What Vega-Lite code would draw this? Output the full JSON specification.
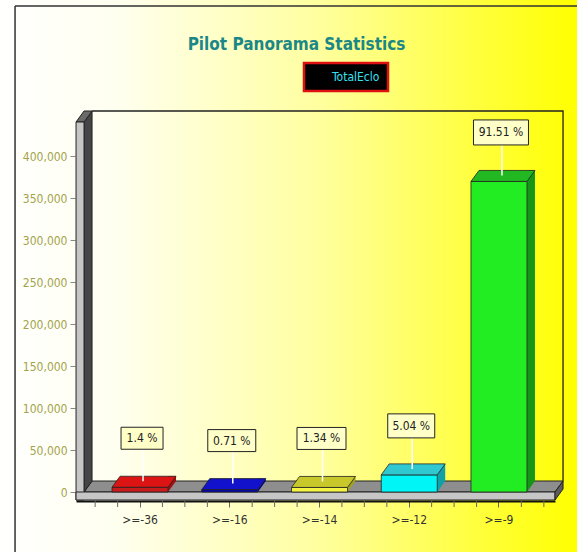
{
  "$schema": "https://vega.github.io/schema/vega-lite/v6.json",
  "width": 577,
  "height": 552,
  "autosize": {"type": "none"},
  "padding": 0,
  "background": "#ffffe6",
  "title": {
    "text": "Pilot Panorama Statistics",
    "color": "#1b8787",
    "font": "Liberation Sans Narrow, DejaVu Sans Condensed, Roboto Condensed, Liberation Sans, sans-serif",
    "fontSize": 17,
    "fontWeight": "bold",
    "anchor": "middle",
    "baseline": "alphabetic",
    "offset": -67,
    "dx": 8
  },
  "config": {
    "font": "Liberation Sans Narrow, DejaVu Sans Condensed, Roboto Condensed, Liberation Sans, sans-serif",
    "view": {
      "stroke": null,
      "fill": {
        "gradient": "linear",
        "x1": 0, "y1": 0, "x2": 1, "y2": 0,
        "stops": [
          {"offset": 0, "color": "#ffffff"},
          {"offset": 0.2, "color": "#fffff0"},
          {"offset": 0.55, "color": "#ffffa0"},
          {"offset": 1, "color": "#ffff00"}
        ]
      }
    }
  },
  "data": {
    "values": [
      {"cat": ">=-36", "count": 5660, "label": "1.4 %", "series": "TotalEclo"},
      {"cat": ">=-16", "count": 2870, "label": "0.71 %", "series": "TotalEclo"},
      {"cat": ">=-14", "count": 5420, "label": "1.34 %", "series": "TotalEclo"},
      {"cat": ">=-12", "count": 20380, "label": "5.04 %", "series": "TotalEclo"},
      {"cat": ">=-9", "count": 369700, "label": "91.51 %", "series": "TotalEclo"}
    ]
  },
  "encoding": {
    "x": {
      "field": "cat",
      "type": "nominal",
      "sort": null,
      "scale": {
        "type": "band",
        "domain": [">=-36", ">=-16", ">=-14", ">=-12", ">=-9"],
        "range": [76, 555],
        "paddingInner": 0.376,
        "paddingOuter": 0.357,
        "align": 0.5625
      },
      "axis": {
        "orient": "bottom",
        "offset": -51,
        "title": null,
        "labelAngle": 0,
        "grid": false,
        "domainColor": "#111111",
        "domainWidth": 2,
        "tickColor": "#666666",
        "tickSize": 6,
        "labelColor": "#333333",
        "labelFontSize": 12,
        "labelPadding": 7
      }
    }
  },
  "layer": [
    {
      "transform": [{"filter": "datum.cat === '>=-36'"}],
      "mark": {"type": "point", "shape": "M-125,-486V80M-125,-486H460", "size": 4, "filled": false, "stroke": "#333333", "strokeWidth": 1.5, "opacity": 1},
      "encoding": {"y": {"datum": 0, "type": "quantitative", "title": null, "scale": {"domain": [0, 400000], "range": [492, 156], "nice": false, "zero": false}}}
    },
    {
      "transform": [{"filter": "datum.cat === '>=-36'"}],
      "mark": {"type": "point", "shape": "M-48,-381H423V-11", "size": 4, "filled": false, "stroke": "#222222", "strokeWidth": 1.3, "opacity": 1},
      "encoding": {"y": {"datum": 0, "type": "quantitative", "title": null, "scale": {"domain": [0, 400000], "range": [492, 156], "nice": false, "zero": false}}}
    },
    {
      "transform": [{"filter": "datum.cat === '>=-36'"}],
      "mark": {"type": "point", "shape": "M-56,0L415,0L423,-11L-48,-11Z", "size": 4, "filled": true, "fill": "#8e8e8e", "stroke": "#222222", "strokeWidth": 1, "opacity": 1},
      "encoding": {"y": {"datum": 0, "type": "quantitative", "title": null, "scale": {"domain": [0, 400000], "range": [492, 156], "nice": false, "zero": false}}}
    },
    {
      "transform": [{"filter": "datum.cat === '>=-36'"}],
      "mark": {"type": "point", "shape": "M-56,-370L-48,-381L-48,-11L-56,0Z", "size": 4, "filled": true, "fill": "#454545", "stroke": "#222222", "strokeWidth": 1, "opacity": 1},
      "encoding": {"y": {"datum": 0, "type": "quantitative", "title": null, "scale": {"domain": [0, 400000], "range": [492, 156], "nice": false, "zero": false}}}
    },
    {
      "transform": [{"filter": "datum.cat === '>=-36'"}],
      "mark": {"type": "point", "shape": "M-64,-370L-56,-370L-48,-381L-56,-381Z", "size": 4, "filled": true, "fill": "#6a6a6a", "stroke": "#222222", "strokeWidth": 1, "opacity": 1},
      "encoding": {"y": {"datum": 0, "type": "quantitative", "title": null, "scale": {"domain": [0, 400000], "range": [492, 156], "nice": false, "zero": false}}}
    },
    {
      "transform": [{"filter": "datum.cat === '>=-36'"}],
      "mark": {"type": "point", "shape": "M-64,-370H-56V8H-64Z", "size": 4, "filled": true, "fill": "#c6c6c6", "stroke": "#222222", "strokeWidth": 1, "opacity": 1},
      "encoding": {"y": {"datum": 0, "type": "quantitative", "title": null, "scale": {"domain": [0, 400000], "range": [492, 156], "nice": false, "zero": false}}}
    },
    {
      "transform": [{"filter": "datum.cat === '>=-36'"}],
      "mark": {"type": "point", "shape": "M-56,0H415V8H-64V0Z", "size": 4, "filled": true, "fill": "#c6c6c6", "stroke": "#222222", "strokeWidth": 1, "opacity": 1},
      "encoding": {"y": {"datum": 0, "type": "quantitative", "title": null, "scale": {"domain": [0, 400000], "range": [492, 156], "nice": false, "zero": false}}}
    },
    {
      "transform": [{"filter": "datum.cat === '>=-36'"}],
      "mark": {"type": "point", "shape": "M415,0L423,-11L423,-3L415,8Z", "size": 4, "filled": true, "fill": "#5c5c5c", "stroke": "#222222", "strokeWidth": 1, "opacity": 1},
      "encoding": {"y": {"datum": 0, "type": "quantitative", "title": null, "scale": {"domain": [0, 400000], "range": [492, 156], "nice": false, "zero": false}}}
    },
    {
      "mark": {"type": "rule", "color": "#666666", "strokeWidth": 1, "xOffset": -44.9, "yOffset": 9, "y2Offset": 15},
      "encoding": {
        "y": {"datum": 0, "type": "quantitative", "title": null, "scale": {"domain": [0, 400000], "range": [492, 156], "nice": false, "zero": false}},
        "y2": {"datum": 0}
      }
    },
    {
      "mark": {"type": "rule", "color": "#666666", "strokeWidth": 1, "xOffset": -22.4, "yOffset": 9, "y2Offset": 15},
      "encoding": {
        "y": {"datum": 0, "type": "quantitative", "title": null, "scale": {"domain": [0, 400000], "range": [492, 156], "nice": false, "zero": false}},
        "y2": {"datum": 0}
      }
    },
    {
      "mark": {"type": "rule", "color": "#666666", "strokeWidth": 1, "xOffset": 22.4, "yOffset": 9, "y2Offset": 15},
      "encoding": {
        "y": {"datum": 0, "type": "quantitative", "title": null, "scale": {"domain": [0, 400000], "range": [492, 156], "nice": false, "zero": false}},
        "y2": {"datum": 0}
      }
    },
    {
      "transform": [{"filter": "datum.cat === '>=-9'"}],
      "mark": {"type": "rule", "color": "#666666", "strokeWidth": 1, "xOffset": 44.9, "yOffset": 9, "y2Offset": 15},
      "encoding": {
        "y": {"datum": 0, "type": "quantitative", "title": null, "scale": {"domain": [0, 400000], "range": [492, 156], "nice": false, "zero": false}},
        "y2": {"datum": 0}
      }
    },
    {
      "mark": {"type": "bar", "width": 8, "xOffset": 32, "yOffset": -11, "y2Offset": -11},
      "encoding": {
        "y": {"field": "count", "type": "quantitative", "title": null, "scale": {"domain": [0, 400000], "range": [492, 156], "nice": false, "zero": false}},
        "y2": {"datum": 0},
        "color": {"field": "cat", "type": "nominal", "legend": null, "scale": {"domain": [">=-36", ">=-16", ">=-14", ">=-12", ">=-9"], "range": ["#a01010", "#00008a", "#a0a020", "#12a0a8", "#169616"]}}
      }
    },
    {
      "mark": {"type": "point", "shape": "M28,0L28,-11L36,-11Z", "size": 4, "filled": true, "opacity": 1, "strokeWidth": 0},
      "encoding": {
        "y": {"datum": 0, "type": "quantitative", "title": null, "scale": {"domain": [0, 400000], "range": [492, 156], "nice": false, "zero": false}},
        "color": {"field": "cat", "type": "nominal", "legend": null, "scale": {"domain": [">=-36", ">=-16", ">=-14", ">=-12", ">=-9"], "range": ["#a01010", "#00008a", "#a0a020", "#12a0a8", "#169616"]}}
      }
    },
    {
      "mark": {"type": "bar", "strokeWidth": 0.8},
      "encoding": {
        "y": {
          "field": "count", "type": "quantitative", "title": null,
          "scale": {"domain": [0, 400000], "range": [492, 156], "nice": false, "zero": false},
          "axis": {
            "orient": "left",
            "offset": -75,
            "values": [0, 50000, 100000, 150000, 200000, 250000, 300000, 350000, 400000],
            "format": ",d",
            "domain": false,
            "grid": false,
            "tickColor": "#888888",
            "tickSize": 5,
            "labelColor": "#a3a34a",
            "labelFontSize": 12,
            "labelPadding": 3
          }
        },
        "y2": {"datum": 0},
        "color": {"field": "cat", "type": "nominal", "legend": null, "scale": {"domain": [">=-36", ">=-16", ">=-14", ">=-12", ">=-9"], "range": ["#c81c1c", "#0606b4", "#f4f444", "#00f6f6", "#22ec22"]}},
        "stroke": {
          "field": "series", "type": "nominal",
          "scale": {"domain": ["TotalEclo"], "range": ["#222222"]},
          "legend": {
            "orient": "none",
            "legendX": 304,
            "legendY": 63,
            "title": null,
            "fillColor": "#000000",
            "strokeColor": "#dd1111",
            "padding": 8,
            "symbolType": "square",
            "symbolSize": 100,
            "symbolFillColor": "#000000",
            "symbolStrokeColor": "#000000",
            "symbolStrokeWidth": 0,
            "labelColor": "#33e3f0",
            "labelFontSize": 12,
            "labelOffset": 8,
            "encode": {"legend": {"update": {"strokeWidth": {"value": 2.5}}}}
          }
        }
      }
    },
    {
      "mark": {"type": "point", "shape": "M-28,0L28,0L36,-11L-20,-11Z", "size": 4, "filled": true, "opacity": 1, "stroke": "#222222", "strokeWidth": 0.8},
      "encoding": {
        "y": {"field": "count", "type": "quantitative", "title": null, "scale": {"domain": [0, 400000], "range": [492, 156], "nice": false, "zero": false}},
        "color": {"field": "cat", "type": "nominal", "legend": null, "scale": {"domain": [">=-36", ">=-16", ">=-14", ">=-12", ">=-9"], "range": ["#dc1414", "#1212cc", "#c8c82a", "#30c8d0", "#22b822"]}}
      }
    },
    {
      "mark": {"type": "rule", "color": "#ffffff", "strokeWidth": 1.5, "xOffset": 3, "yOffset": -38, "y2Offset": -6},
      "encoding": {
        "y": {"field": "count", "type": "quantitative", "title": null, "scale": {"domain": [0, 400000], "range": [492, 156], "nice": false, "zero": false}},
        "y2": {"field": "count"}
      }
    },
    {
      "mark": {"type": "point", "size": 4, "filled": true, "fill": "#ffffc8", "stroke": "#222222", "strokeWidth": 1, "opacity": 1, "xOffset": 2, "yOffset": -49},
      "encoding": {
        "y": {"field": "count", "type": "quantitative", "title": null, "scale": {"domain": [0, 400000], "range": [492, 156], "nice": false, "zero": false}},
        "shape": {"field": "cat", "type": "nominal", "legend": null, "scale": {"domain": [">=-36", ">=-16", ">=-14", ">=-12", ">=-9"], "range": ["M-21,-11H21V11H-21Z", "M-24,-11H24V11H-24Z", "M-24.5,-11H24.5V11H-24.5Z", "M-23.5,-12H23.5V12H-23.5Z", "M-27.5,-12.5H27.5V12.5H-27.5Z"]}}
      }
    },
    {
      "mark": {"type": "text", "xOffset": 2, "yOffset": -49, "fontSize": 12, "color": "#222222", "baseline": "middle", "align": "center"},
      "encoding": {
        "y": {"field": "count", "type": "quantitative", "title": null, "scale": {"domain": [0, 400000], "range": [492, 156], "nice": false, "zero": false}},
        "text": {"field": "label", "type": "nominal"}
      }
    }
  ],
  "resolve": {"scale": {"color": "independent"}}
}
